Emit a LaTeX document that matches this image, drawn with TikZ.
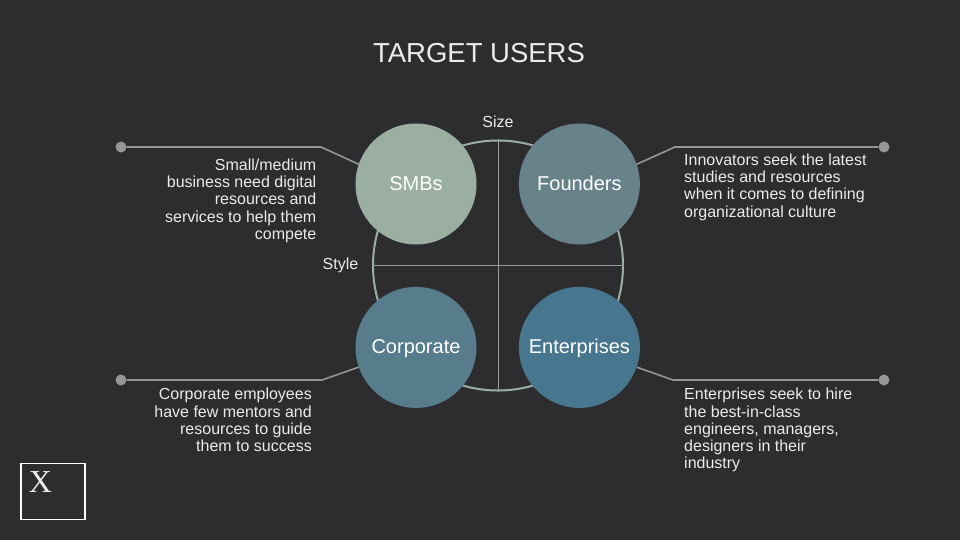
\documentclass[tikz,border=0pt]{standalone}
\usepackage{fontspec}
\setmainfont{Liberation Sans}
\newfontfamily\logofont{Liberation Serif}
\usetikzlibrary{positioning}
\definecolor{tubg}{RGB}{45,45,47}
\definecolor{tusage}{RGB}{154,175,161}
\definecolor{tufounder}{RGB}{104,130,138}
\definecolor{tucorp}{RGB}{87,125,141}
\definecolor{tuent}{RGB}{71,118,143}
\definecolor{tugray}{RGB}{150,150,152}
\begin{document}
\begin{tikzpicture}[
    x=1pt,y=-1pt,
    font=\fontsize{16}{17.3}\selectfont,
    node distance=42pt,
    txt/.style={text=white!92!black,inner sep=0pt},
    blob/.style={circle,inner sep=0pt,minimum size=121pt,text=white,text height=15pt,text depth=3pt,font=\fontsize{20}{24}\selectfont},
    dot/.style={circle,fill=tugray,inner sep=0pt,minimum size=11pt},
    leader/.style={draw=tugray,line width=1.6pt},
    axis/.style={draw=tugray!80!tusage,line width=0.8pt}
  ]
    \fill[tubg] (0,0) rectangle (960,540);
    \useasboundingbox (0,0) rectangle (960,540);
    \node[txt,font=\fontsize{27.5}{30}\selectfont] (title) at (479,53.5) {TARGET USERS};
    \node[txt] (size) at (498,121.5) {Size};
    \node[txt] (style) at (340.5,265.5) {Style};
    % quadrant ring
    \node[circle,draw=tusage,line width=2pt,inner sep=0pt,minimum size=250pt] (ring) at (498,265.5) {};
    \draw[axis] (ring.west) -- (ring.east);
    \draw[axis] (ring.north) -- (ring.south);
    % circles
    \node[blob,fill=tusage] (smbs) at (416,184) {SMBs};
    \node[blob,fill=tufounder,right=of smbs] (founders) {Founders};
    \node[blob,fill=tucorp,below=of smbs] (corp) {Corporate};
    \node[blob,fill=tuent,right=of corp] (ent) {Enterprises};
    % leaders
    \node[dot] (smbsdot) at (121,147) {};
    \node[dot] (foundersdot) at (884,147) {};
    \node[dot] (corpdot) at (121,380) {};
    \node[dot] (entdot) at (884,380) {};
    \coordinate (smbsbend) at (321,147);
    \coordinate (foundersbend) at (675,147);
    \coordinate (corpbend) at (322,380);
    \coordinate (entbend) at (673,380);
    \draw[leader] (smbsdot) -- (smbsbend) -- (smbs.161);
    \draw[leader] (foundersdot) -- (foundersbend) -- (founders.19);
    \draw[leader] (corpdot) -- (corpbend) -- (corp.199);
    \draw[leader] (entdot) -- (entbend) -- (ent.341);
    % texts
    \node[txt,align=right,anchor=north east] (smbstxt) at (316.5,158.5) {Small/medium\\business need digital\\resources and\\services to help them\\compete};
    \node[txt,align=left,anchor=north west] (founderstxt) at (684,153.5) {Innovators seek the latest\\studies and resources\\when it comes to defining\\organizational culture};
    \node[txt,align=right,anchor=north east] (corptxt) at (312,388) {Corporate employees\\have few mentors and\\resources to guide\\them to success};
    \node[txt,align=left,anchor=north west] (enttxt) at (684,388) {Enterprises seek to hire\\the best-in-class\\engineers, managers,\\designers in their\\industry};
    % logo
    \node[draw=white,line width=1.8pt,inner sep=0pt,minimum width=64pt,minimum height=56pt] (logobox) at (53,491.5) {};
    \node[txt,font=\logofont\fontsize{32}{32}\selectfont] (logo) at (40.5,482) {X};
  \end{tikzpicture}
\end{document}
